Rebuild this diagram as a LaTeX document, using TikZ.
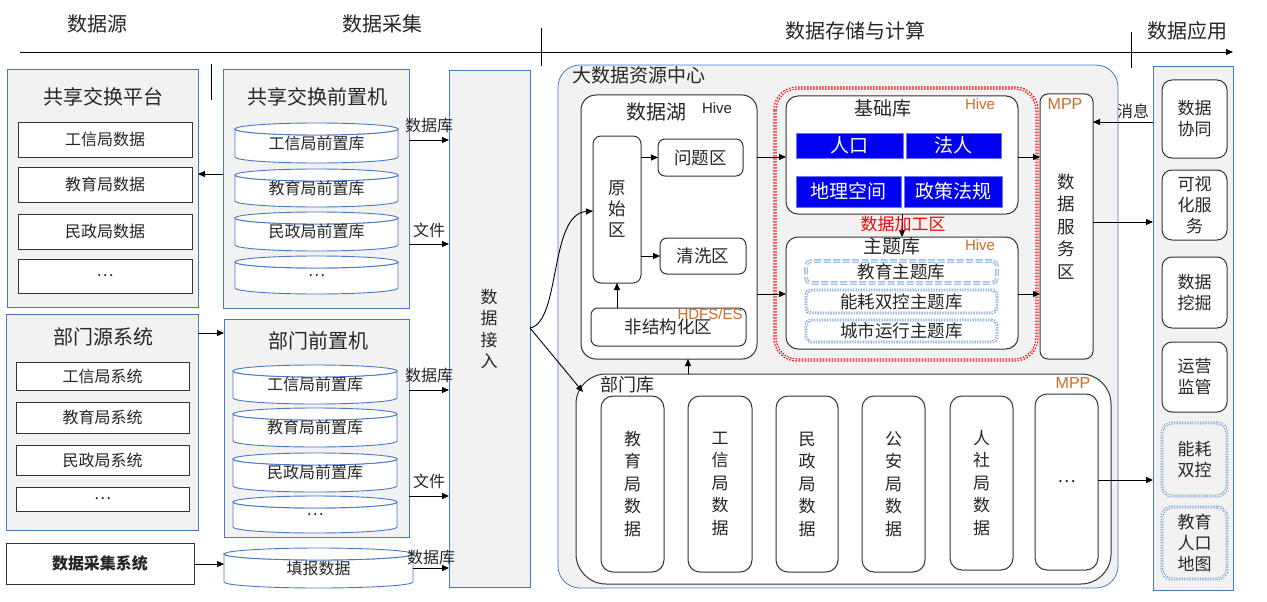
\documentclass[tikz,border=0pt]{standalone}
\usepackage{fontspec}
\setmainfont{Noto Sans CJK SC}
\newfontfamily\lat{Liberation Sans}
\usetikzlibrary{arrows.meta}
\definecolor{bblue}{HTML}{4A78C8}
\definecolor{gfill}{HTML}{F2F2F2}
\definecolor{orng}{HTML}{D06A26}
\definecolor{pureblue}{HTML}{0000F2}
\definecolor{lblue}{HTML}{9CC0E6}
\definecolor{dblue}{HTML}{6A98D2}
\definecolor{txtc}{HTML}{262626}
\newcommand{\fs}[2]{\fontsize{#1}{#2}\selectfont}
\newcommand{\mybox}[7]{\node[#1, minimum width={(#5-#3)*1pt}, minimum height={(#6-#4)*1pt}] (#2) at ({(#3+#5)/2},{(#4+#6)/2}) {#7};}
\newcommand{\mycyl}[6]{%
 \filldraw[cylst] (#2,#3+6) -- (#2,#5-6) arc[start angle=180,end angle=0,x radius={(#4-#2)/2},y radius=6] -- (#4,#3+6) arc[start angle=0,end angle=180,x radius={(#4-#2)/2},y radius=6] -- cycle;
 \draw[cylst] ({(#2+#4)/2},#3+6) ellipse[x radius={(#4-#2)/2},y radius=6];
 \node[inner sep=0, outer sep=0, align=center, font=\fs{16}{19}, minimum width={(#4-#2)*1pt}, minimum height={(#5-#3)*1pt}] (#1) at ({(#2+#4)/2},{(#3+#5)/2}) {\raisebox{-3pt}{#6}};}
\tikzset{
  every node/.append style={text=txtc},
  gbox/.style={draw=bblue, fill=gfill, line width=0.8pt, inner sep=0, outer sep=0},
  wbox/.style={draw=black!80, fill=white, line width=1pt, inner sep=0, outer sep=0, align=center, font=\fs{16}{19}},
  rbox/.style={wbox, rounded corners=#1},
  cylst/.style={draw=bblue, fill=white, line width=0.9pt},
  bluebox/.style={fill=pureblue, draw=pureblue!55, line width=0.6pt, inner sep=0, outer sep=0, text=white, font=\fs{19}{22}},
  dashbox/.style={draw=lblue, line width=1.3pt, double=white, double distance=1pt, dash pattern=on 7pt off 2.5pt, rounded corners=5pt, inner sep=0, outer sep=0, font=\fs{17.5}{20}},
  dotbox/.style={draw=dblue, line width=1pt, double=white, double distance=0.9pt, dash pattern=on 1.3pt off 1.3pt, rounded corners=#1, inner sep=0, outer sep=0, align=center, font=\fs{17.5}{21}},
  arr/.style={-{Triangle[length=7pt,width=6pt]}, line width=0.9pt, draw=black},
  ttl/.style={font=\fs{20}{24}},
  orn/.style={text=orng, font=\lat\fs{15}{17}},
}
\begin{document}
\begin{tikzpicture}[x=1pt,y=-1pt]
\useasboundingbox (0,0) rectangle (1267,602);
% header
\node[ttl] (h1) at (97,24) {数据源};
\node[ttl] (h2) at (382,24) {数据采集};
\node[ttl] (h3) at (855,31) {数据存储与计算};
\node[ttl] (h4) at (1187,31) {数据应用};
\coordinate (L0) at (20,52); \coordinate (L1) at (1233,52);
\draw[arr] (L0) -- (L1);
\coordinate (t1a) at (211,64); \coordinate (t1b) at (211,100);
\coordinate (t2a) at (541,28); \coordinate (t2b) at (541,66);
\coordinate (t3a) at (1131,32); \coordinate (t3b) at (1131,68);
\draw[line width=0.9pt] (t1a) -- (t1b) (t2a) -- (t2b) (t3a) -- (t3b);
% helper coordinates for connector heights / columns
\foreach \n/\v in {y140/140,y174/174,y244/244,y333/333,y390/390,y496/496,y564/564,y568/568,y328/328,y211/211,y157/157,y294/294,y122/122,y222/222,y480/480}{\coordinate (\n) at (0,\v);}
\coordinate (x688) at (688,0);
% 共享交换平台
\mybox{gbox}{gq}{7}{69}{198}{307}{}
\node[ttl] (gqt) at (103,97) {共享交换平台};
\mybox{wbox}{g1}{18}{122}{192}{157}{工信局数据}
\mybox{wbox}{g2}{18}{167}{192}{202}{教育局数据}
\mybox{wbox}{g3}{18}{214}{192}{249}{民政局数据}
\mybox{wbox}{g4}{18}{259}{192}{293}{…}
% 共享交换前置机
\mybox{gbox}{qz}{223}{69}{409}{308}{}
\node[ttl] (qzt) at (317,97) {共享交换前置机};
\mycyl{c1}{235}{123}{398}{163}{工信局前置库}
\mycyl{c2}{235}{169}{398}{207}{教育局前置库}
\mycyl{c3}{235}{212}{398}{251}{民政局前置库}
\mycyl{c4}{235}{256}{398}{294}{…}
\draw[arr] (qz.west |- y174) -- (gq.east |- y174);
% 部门源系统
\mybox{gbox}{bs}{6}{314}{198}{530}{}
\node[ttl] (bst) at (103,337) {部门源系统};
\mybox{wbox}{s1}{16}{362}{189}{390}{工信局系统}
\mybox{wbox}{s2}{16}{402}{189}{433}{教育局系统}
\mybox{wbox}{s3}{16}{445}{189}{475}{民政局系统}
\mybox{wbox}{s4}{16}{487}{189}{511}{…}
% 部门前置机
\mybox{gbox}{bq}{224}{319}{409}{537}{}
\node[ttl] (bqt) at (318,341) {部门前置机};
\mycyl{d1}{233}{365}{397}{404}{工信局前置库}
\mycyl{d2}{233}{408}{397}{447}{教育局前置库}
\mycyl{d3}{233}{453}{397}{492}{民政局前置库}
\mycyl{d4}{233}{496}{397}{533}{…}
\draw[arr] (bs.east |- y333) -- (bq.west |- y333);
% 数据采集系统
\mybox{wbox}{cj}{6}{543}{194}{584}{\bfseries 数据采集系统}
\mycyl{tb}{224}{548}{413}{588}{填报数据}
\draw[arr] (cj.east |- y564) -- (tb.west |- y564);
% 数据接入
\mybox{gbox}{jr}{449}{70}{530}{587}{}
\node[align=center, font=\fs{17}{21.5}] (jrt) at (489,329) {数\\据\\接\\入};
\draw[arr] (qz.east |- y140) -- node[midway, yshift=15pt, font=\fs{16}{19}] {数据库} (jr.west |- y140);
\draw[arr] (qz.east |- y244) -- node[midway, yshift=14pt, font=\fs{16}{19}] {文件} (jr.west |- y244);
\draw[arr] (bq.east |- y390) -- node[midway, yshift=15pt, font=\fs{16}{19}] {数据库} (jr.west |- y390);
\draw[arr] (bq.east |- y496) -- node[midway, yshift=15pt, font=\fs{16}{19}] {文件} (jr.west |- y496);
\draw[arr] (tb.east |- y568) -- node[midway, yshift=11pt, font=\fs{16}{19}] {数据库} (jr.west |- y568);
% 大数据资源中心
\mybox{gbox, rounded corners=22pt}{dz}{558}{65}{1118}{588}{}
\node[anchor=west, font=\fs{19}{22}] (dzt) at (569,75) {大数据资源中心};
% 数据湖
\mybox{rbox=15pt}{sh}{581}{95}{757}{359}{}
\node[font=\fs{20}{24}] (sht) at (656,112) {数据湖};
\node[font=\lat\fs{15}{17}] (shh) at (717,108) {Hive};
\mybox{rbox=8pt, font=\fs{17.5}{21}}{ys}{593}{136}{641}{283}{原\\始\\区}
\mybox{rbox=7pt, font=\fs{17.5}{21}}{wt}{658}{139}{743}{176}{问题区}
\mybox{rbox=7pt, font=\fs{17.5}{21}}{qx}{660}{238}{746}{274}{清洗区}
\mybox{rbox=7pt, font=\fs{17.5}{21}}{fjg}{591}{308}{746}{346}{\raisebox{-2pt}{非结构化区}}
\node[orn] (hdfs) at (710,314) {HDFS/ES};
\draw[arr] (ys.east |- wt.west) -- (wt.west);
\draw[arr] (ys.east |- qx.west) -- (qx.west);
\draw[arr] (ys.south |- fjg.north) -- (ys.south);
% 部门库
\mybox{rbox=30pt}{bmk}{576}{374}{1111}{584}{}
\node[anchor=west, font=\fs{18}{22}] (bmkt) at (597,385) {部门库};
\node[orn, font=\lat\fs{16}{18}] (bmkm) at (1073,383) {MPP};
\mybox{rbox=12pt, font=\fs{17}{22.5}}{k1}{601}{396}{664}{572}{教\\育\\局\\数\\据}
\mybox{rbox=12pt, font=\fs{17}{22.5}}{k2}{688}{396}{752}{572}{工\\信\\局\\数\\据}
\mybox{rbox=12pt, font=\fs{17}{22.5}}{k3}{776}{396}{838}{572}{民\\政\\局\\数\\据}
\mybox{rbox=12pt, font=\fs{17}{22.5}}{k4}{862}{396}{925}{572}{公\\安\\局\\数\\据}
\mybox{rbox=12pt, font=\fs{17}{22.5}}{k5}{950}{396}{1013}{570}{人\\社\\局\\数\\据}
\mybox{rbox=12pt, font=\fs{17}{22.5}}{k6}{1035}{394}{1098}{570}{…}
\coordinate (bmkc) at (583,392);
\draw[arr] (jr.east |- y328) .. controls (561,322) and (549,214) .. (ys.west |- y211);
\draw[arr] (jr.east |- y328) -- (bmkc);
\draw[arr] (bmk.north -| x688) -- (sh.south -| x688);
% 数据加工区
\draw[draw=red, line width=1.2pt, double=white, double distance=0.9pt, dash pattern=on 1.5pt off 1.5pt, rounded corners=22pt] (775,88) rectangle (1037,360);
\mybox{rbox=12pt}{jc}{786}{96}{1018}{214}{}
\node[font=\fs{19}{22}] (jct) at (883,108) {基础库};
\node[orn] (jch) at (980,104) {Hive};
\mybox{bluebox}{rk}{796}{133}{903}{158}{人口}
\mybox{bluebox}{fr}{906}{133}{1001}{158}{法人}
\mybox{bluebox}{dl}{796}{176}{901}{207}{地理空间}
\mybox{bluebox}{zc}{904}{176}{1002}{207}{政策法规}
\mybox{rbox=12pt}{zt}{786}{237}{1018}{349}{}
\node[font=\fs{19}{22}] (ztt) at (892,246) {主题库};
\node[orn] (zth) at (980,245) {Hive};
\draw[arr] (jc.south) -- (zt.north);
\node[text=red, font=\fs{17}{20}] (jgt) at (903,224) {数据加工区};
\mybox{dashbox}{z1}{806}{261}{997}{283}{教育主题库}
\mybox{dotbox=5pt}{z2}{806}{290}{997}{313}{能耗双控主题库}
\mybox{dotbox=5pt}{z3}{806}{320}{997}{342}{城市运行主题库}
% 数据服务区
\mybox{rbox=8pt, font=\fs{17.5}{22.5}}{fw}{1040}{94}{1093}{359}{数\\据\\服\\务\\区}
\node[orn, font=\lat\fs{16}{18}] (fwm) at (1065,104) {MPP};
\draw[arr] (sh.east |- y157) -- (jc.west |- y157);
\draw[arr] (sh.east |- y294) -- (zt.west |- y294);
\draw[arr] (jc.east |- y157) -- (fw.west |- y157);
\draw[arr] (zt.east |- y294) -- (fw.west |- y294);
% 数据应用
\mybox{gbox}{yy}{1153}{66}{1233}{590}{}
\mybox{rbox=10pt, font=\fs{17}{21}}{a1}{1162}{80}{1227}{158}{数据\\协同}
\mybox{rbox=10pt, font=\fs{17}{21}}{a2}{1162}{170}{1227}{240}{可视\\化服\\务}
\mybox{rbox=10pt, font=\fs{17}{21}}{a3}{1162}{257}{1227}{328}{数据\\挖掘}
\mybox{rbox=10pt, font=\fs{17}{21}}{a4}{1162}{342}{1227}{412}{运营\\监管}
\mybox{dotbox=10pt, font=\fs{17}{21}}{a5}{1162}{423}{1227}{496}{能耗\\双控}
\mybox{dotbox=10pt, font=\fs{17}{21}}{a6}{1162}{507}{1227}{579}{教育\\人口\\地图}
\draw[arr] (yy.west |- y122) -- node[pos=0.33, yshift=11pt, font=\fs{16}{19}] {消息} (fw.east |- y122);
\draw[arr] (fw.east |- y222) -- (yy.west |- y222);
\draw[arr] (k6.east |- y480) -- (yy.west |- y480);
\end{tikzpicture}
\end{document}
